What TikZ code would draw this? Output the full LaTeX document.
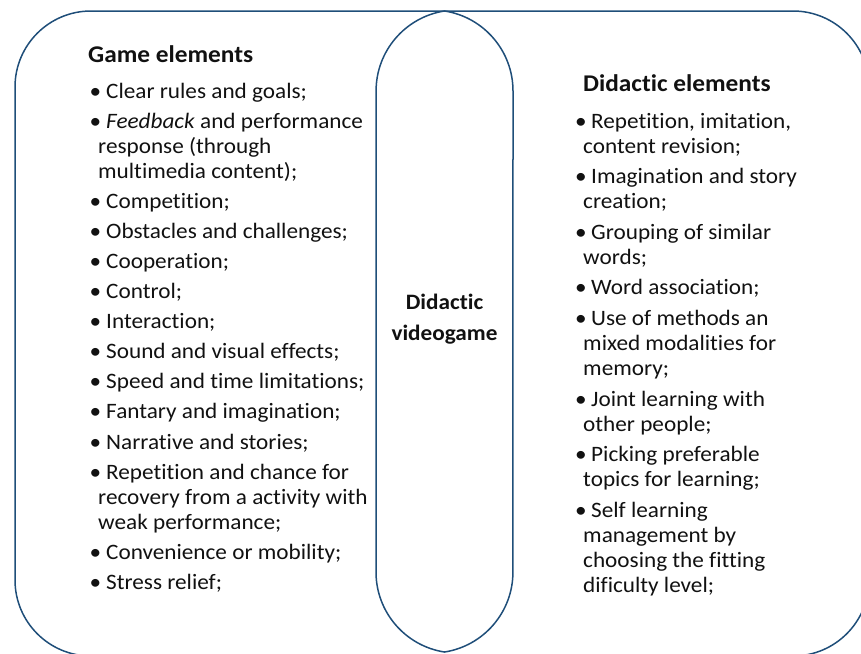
\documentclass[tikz,border=0pt]{standalone}
\usepackage{fontspec}
\setmainfont{Carlito}[Ligatures=NoCommon, FakeStretch=1.055]
\definecolor{edge}{HTML}{1F4E79}
\definecolor{ink}{HTML}{111111}
\tikzset{
  outline/.style={draw=edge, line width=1.5pt},
  txt/.style={inner sep=0pt, anchor=base west, font=\fontsize{22}{25}\selectfont, text=ink},
  head/.style={txt, font=\fontsize{24}{25}\selectfont\bfseries},
  mid/.style={txt, font=\fontsize{22}{25}\selectfont\bfseries},
}
\newcommand\bul{\makebox[16.5pt][l]{•}}
\newcommand\bur{\makebox[16pt][l]{•}}
\newcommand\cont{\hspace*{8.5pt}}
\newcommand\conr{\hspace*{8pt}}
\newcommand\lns[1]{\begin{tabular}[t]{@{}l@{}}#1\end{tabular}}
\begin{document}
\begin{tikzpicture}[x=1pt,y=1pt]
\useasboundingbox (0,0) rectangle (861,-653);
\clip (0,0) rectangle (861,-653);
% outer set outline
\draw[outline, rounded corners=76pt] (15,-11) rectangle (869,-656);
% central pill
\draw[outline] (376,-91) -- (376,-572)
  arc[start angle=180,end angle=261.1,radius=81]
  arc[start angle=278.9,end angle=360,radius=81]
  -- (513,-91)
  arc[start angle=0,end angle=81.1,radius=81]
  arc[start angle=98.9,end angle=180,radius=81] -- cycle;
% left column
\node[head] (gh) at (88,-62) {Game elements};
\node[txt] (g1) at (89.5,-98) {\bul Clear rules and goals;};
\node[txt] (g2) at (89.5,-128.1) {\lns{\bul\textit{Feedback} and performance\\\cont response (through\\\cont multimedia content);}};
\node[txt] (g3) at (89.5,-208.2) {\bul Competition;};
\node[txt] (g4) at (89.5,-238.3) {\bul Obstacles and challenges;};
\node[txt] (g5) at (89.5,-268.4) {\bul Cooperation;};
\node[txt] (g6) at (89.5,-298.5) {\bul Control;};
\node[txt] (g7) at (89.5,-328.6) {\bul Interaction;};
\node[txt] (g8) at (89.5,-358.7) {\bul Sound and visual effects;};
\node[txt] (g9) at (89.5,-388.8) {\bul Speed and time limitations;};
\node[txt] (g10) at (89.5,-418.9) {\bul Fantary and imagination;};
\node[txt] (g11) at (89.5,-449) {\bul Narrative and stories;};
\node[txt] (g12) at (89.5,-479.1) {\lns{\bul Repetition and chance for\\\cont recovery from a activity with\\\cont weak performance;}};
\node[txt] (g13) at (89.5,-559.2) {\bul Convenience or mobility;};
\node[txt] (g14) at (89.5,-589.3) {\bul Stress relief;};
% centre
\node[mid, anchor=base] (c) at (444.5,-309) {\begin{tabular}[t]{@{}c@{}}Didactic\\[6pt]videogame\end{tabular}};
% right column
\node[head] (dh) at (583,-91) {Didactic elements};
\node[txt] (d1) at (575,-128) {\lns{\bur Repetition, imitation,\\\conr content revision;}};
\node[txt] (d2) at (575,-183.6) {\lns{\bur Imagination and story\\\conr creation;}};
\node[txt] (d3) at (575,-239.2) {\lns{\bur Grouping of similar\\\conr words;}};
\node[txt] (d4) at (575,-294.8) {\bur Word association;};
\node[txt] (d5) at (575,-325.4) {\lns{\bur Use of methods an\\\conr mixed modalities for\\\conr memory;}};
\node[txt] (d6) at (575,-406) {\lns{\bur Joint learning with\\\conr other people;}};
\node[txt] (d7) at (575,-461.6) {\lns{\bur Picking preferable\\\conr topics for learning;}};
\node[txt] (d8) at (575,-517.2) {\lns{\bur Self learning\\\conr management by\\\conr choosing the fitting\\\conr dificulty level;}};
\end{tikzpicture}
\end{document}
